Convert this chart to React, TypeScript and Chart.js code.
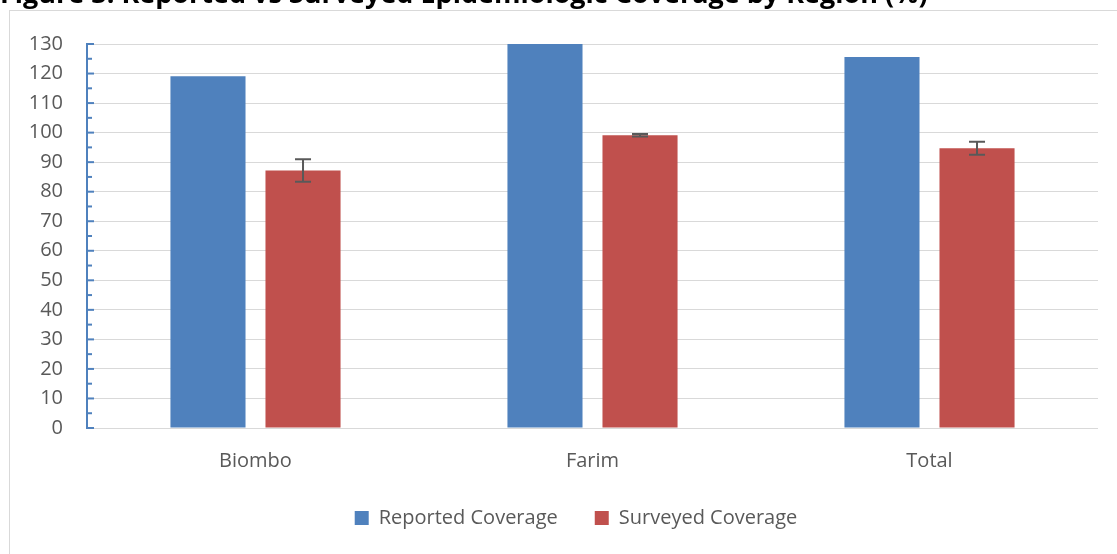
import React, { useEffect, useRef } from "react";
import { Chart, registerables } from "chart.js";

Chart.register(...registerables);

const TITLE = "Figure 3: Reported vs Surveyed Epidemiologic Coverage by Region (%)";
const categories = ["Biombo", "Farim", "Total"];
const reportedCoverage = [119.1, 134, 125.6];
const surveyedCoverage = [87.2, 99.1, 94.7];
const surveyedError = [3.8, 0.4, 2.2];
const seriesNames = ["Reported Coverage", "Surveyed Coverage"];
const Y_MIN = 0;
const Y_MAX = 130;
const Y_STEP = 10;
const Y_MINOR_STEP = 5;

const FONT = "'Open Sans', 'Noto Sans', sans-serif";
const TEXT_COLOR = "#595959";
const BLUE = "#4F81BD";
const RED = "#C0504D";

const errorBarPlugin = {
  id: "errorBars",
  afterDatasetsDraw(chart: any) {
    const meta = chart.getDatasetMeta(1);
    const y = chart.scales.y;
    const ctx = chart.ctx;
    ctx.save();
    ctx.strokeStyle = "#595959";
    ctx.lineWidth = 2;
    meta.data.forEach((bar: any, i: number) => {
      const v = surveyedCoverage[i];
      const e = surveyedError[i];
      const yTop = y.getPixelForValue(v + e);
      const yBot = y.getPixelForValue(v - e);
      const x = bar.x;
      ctx.beginPath();
      ctx.moveTo(x, yTop);
      ctx.lineTo(x, yBot);
      ctx.moveTo(x - 8, yTop);
      ctx.lineTo(x + 8, yTop);
      ctx.moveTo(x - 8, yBot);
      ctx.lineTo(x + 8, yBot);
      ctx.stroke();
    });
    ctx.restore();
  },
};

const innerTicksPlugin = {
  id: "innerTicks",
  afterDraw(chart: any) {
    const y = chart.scales.y;
    const ctx = chart.ctx;
    const x0 = chart.chartArea.left;
    ctx.save();
    ctx.strokeStyle = BLUE;
    ctx.lineWidth = 2;
    for (let v = Y_MIN; v <= Y_MAX; v += Y_MINOR_STEP) {
      const py = y.getPixelForValue(v);
      const len = v % Y_STEP === 0 ? 7 : 5;
      ctx.beginPath();
      ctx.moveTo(x0, py);
      ctx.lineTo(x0 + len, py);
      ctx.stroke();
    }
    ctx.restore();
  },
};

// shift legend so it is centred/placed like the reference
const legendShiftPlugin = {
  id: "legendShift",
  afterLayout(chart: any) {
    if (chart.legend) {
      chart.legend.left += 54;
      chart.legend.top -= 2;
      chart.legend.bottom -= 2;
    }
  },
};

export default function App() {
  const ref = useRef<HTMLCanvasElement>(null);
  useEffect(() => {
    if (!ref.current) return;
    const chart = new Chart(ref.current, {
      type: "bar",
      data: {
        labels: categories,
        datasets: [
          {
            label: seriesNames[0],
            data: reportedCoverage,
            backgroundColor: BLUE,
            categoryPercentage: 0.564,
            barPercentage: 0.79,
          },
          {
            label: seriesNames[1],
            data: surveyedCoverage,
            backgroundColor: RED,
            categoryPercentage: 0.564,
            barPercentage: 0.79,
          },
        ],
      },
      options: {
        animation: false,
        responsive: false,
        devicePixelRatio: 1,
        layout: { padding: { left: 0, right: 19, top: 44, bottom: 14 } },
        plugins: {
          title: { display: false },
          tooltip: { enabled: false },
          legend: {
            position: "bottom",
            labels: {
              boxWidth: 14,
              boxHeight: 14,
              padding: 37,
              color: TEXT_COLOR,
              font: { family: FONT, size: 20 },
            },
          },
        },
        scales: {
          x: {
            afterFit(scale: any) {
              scale.height = 45;
            },
            grid: { display: false, drawTicks: false },
            border: { display: false },
            ticks: { color: TEXT_COLOR, font: { family: FONT, size: 20 }, padding: 21, maxRotation: 0 },
          },
          y: {
            min: Y_MIN,
            max: Y_MAX,
            afterFit(scale: any) {
              scale.width = 87;
            },
            ticks: {
              stepSize: Y_STEP,
              color: TEXT_COLOR,
              font: { family: FONT, size: 20 },
              padding: 24,
            },
            grid: { color: "#d9d9d9", lineWidth: 1, drawTicks: false },
            border: { display: true, color: BLUE, width: 2 },
          },
        },
      },
      plugins: [errorBarPlugin, innerTicksPlugin, legendShiftPlugin],
    } as any);
    return () => chart.destroy();
  }, []);

  return (
    <div
      style={{
        position: "fixed",
        left: 0,
        top: 0,
        width: 1117,
        height: 554,
        overflow: "hidden",
        background: "#fff",
      }}
    >
      <div
        style={{
          position: "absolute",
          left: 9,
          top: 10,
          width: 1200,
          height: 700,
          border: "1px solid #d9d9d9",
          boxSizing: "border-box",
        }}
      />
      <canvas
        ref={ref}
        width={1117}
        height={554}
        style={{ position: "absolute", left: 0, top: 0, width: 1117, height: 554 }}
      />
      <div
        style={{
          position: "absolute",
          left: 0,
          top: -21,
          fontFamily: FONT,
          fontWeight: 700,
          fontSize: 27,
          lineHeight: "27px",
          color: "#000",
          whiteSpace: "nowrap",
        }}
      >
        {TITLE}
      </div>
    </div>
  );
}
